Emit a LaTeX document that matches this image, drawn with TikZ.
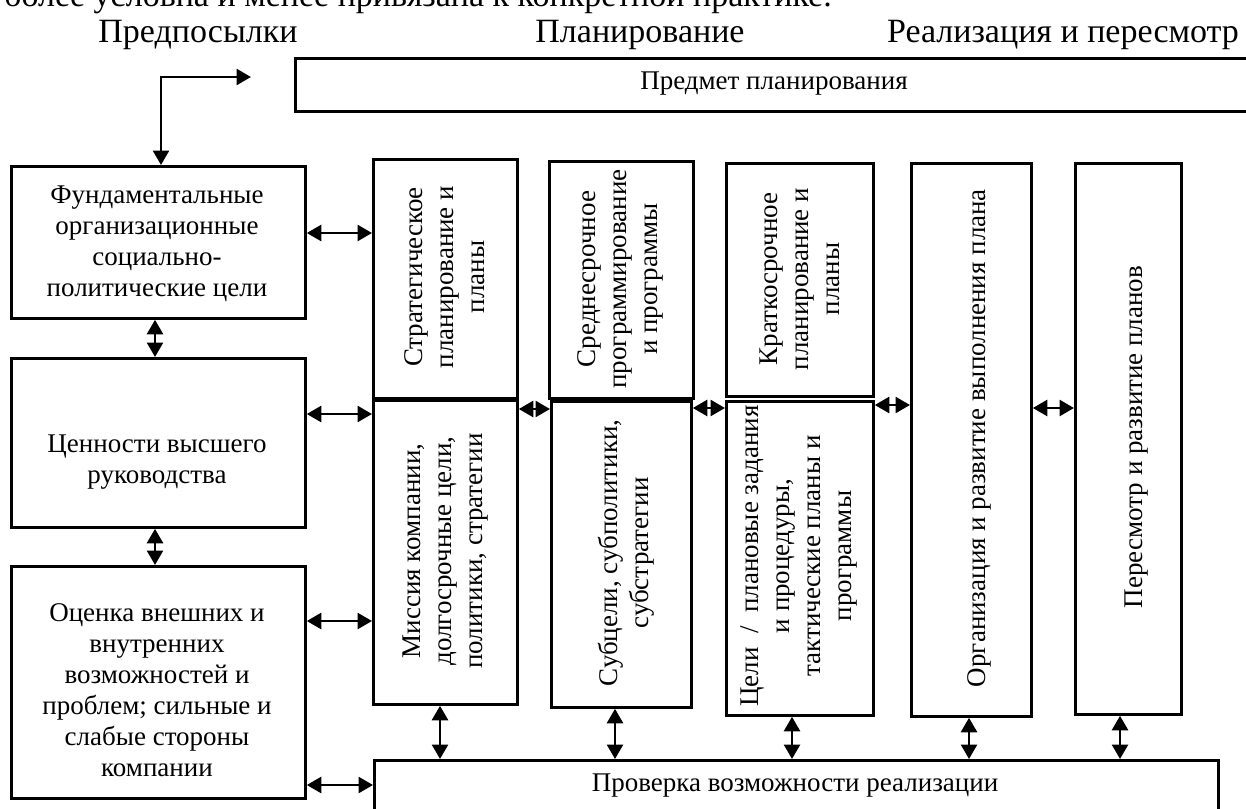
\documentclass[tikz,border=0pt]{standalone}
\usepackage{fontspec}
\setmainfont{Liberation Serif}
\usetikzlibrary{arrows.meta}
\begin{document}
\begin{tikzpicture}[x=1pt,y=-1pt,
  box/.style={draw, line width=2.8pt, inner sep=0pt, anchor=north west},
  txt/.style={inner sep=0pt, align=center, font=\fontsize{27}{31}\selectfont},
  vtxt/.style={txt, rotate=90},
  hdr/.style={inner sep=0pt, anchor=base, font=\fontsize{34}{40}\selectfont},
  tip/.tip={Triangle[length=14.5pt,width=16pt]},
  arr/.style={line width=2.7pt, tip-tip}]
\useasboundingbox (0,0) rectangle (1246,808);
\clip (0,0) rectangle (1246,808);
\fill[white] (0,0) rectangle (1246,808);

% cut-off line of the page text and headers
\node[hdr, anchor=base west] (top) at (4,7) {более условна и менее привязана к конкретной практике.};
\node[hdr] (h1) at (198,43) {Предпосылки};
\node[hdr] (h2) at (640,43) {Планирование};
\node[hdr] (h3) at (1063,43) {Реализация и пересмотр};

% subject of planning
\node[box, minimum width=980pt, minimum height=53pt] (Pr) at (294,57) {};
\node[txt] at (774,84) {Предмет планирования};

% left column
\node[box, minimum width=294pt, minimum height=152pt] (F) at (10,165) {};
\node[txt] at (157,244) {Фундаментальные\\организационные\\социально-\\политические цели};
\node[box, minimum width=294pt, minimum height=169pt] (C) at (10,357) {};
\node[txt] at (157,462) {Ценности высшего\\руководства};
\node[box, minimum width=294pt, minimum height=232pt] (A) at (10,565) {};
\node[txt] at (157,690) {Оценка внешних и\\внутренних\\возможностей и\\проблем; сильные и\\слабые стороны\\компании};

% planning columns
\node[box, minimum width=144pt, minimum height=239pt] (S) at (372,158) {};
\node[vtxt] at (445,277) {Стратегическое\\планирование и\\планы};
\node[box, minimum width=144pt, minimum height=304pt] (M) at (372,399) {};
\node[vtxt] at (446,551) {Миссия компании,\\долгосрочные цели,\\политики, стратегии};

\node[box, minimum width=144pt, minimum height=237pt] (Ms) at (548,160) {};
\node[vtxt] at (620,279) {Среднесрочное\\программирование\\и программы};
\node[box, minimum width=140pt, minimum height=306pt] (Sb) at (550,400) {};
\node[vtxt] at (626,553) {Субцели, субполитики,\\субстратегии};

\node[box, minimum width=147pt, minimum height=233pt] (K) at (725,162) {};
\node[vtxt] at (800,279) {Краткосрочное\\планирование и\\планы};
\node[box, minimum width=147pt, minimum height=314pt] (T) at (725,400) {};
\node[vtxt] at (799,556) {Цели\ \ /\ \ плановые задания\\и процедуры,\\тактические планы и\\программы};

% realisation columns
\node[box, minimum width=120pt, minimum height=553pt] (Org) at (910,162) {};
\node[vtxt] at (979,438) {Организация и развитие выполнения плана};
\node[box, minimum width=106pt, minimum height=551pt] (R) at (1074,162) {};
\node[vtxt] at (1137,437) {Пересмотр и развитие планов};

% feasibility check
\node[box, minimum width=844pt, minimum height=56pt] (P) at (373,759) {};
\node[txt] at (795,786) {Проверка возможности реализации};

% connectors
\coordinate (E) at (251,77);
\draw[arr] (E) -| (F.north -| 161,0);
\draw[arr] (F.south -| 155,0) -- (C.north -| 155,0);
\draw[arr] (C.south -| 155,0) -- (A.north -| 155,0);
\draw[arr] (F.east |- 0,233) -- (S.west |- 0,233);
\draw[arr] (C.east |- 0,414) -- (M.west |- 0,414);
\draw[arr] (A.east |- 0,621) -- (M.west |- 0,621);
\draw[arr] (A.east |- 0,785) -- (P.west |- 0,785);
\draw[arr] (M.east |- 0,409) -- (Sb.west |- 0,409);
\draw[arr] (Sb.east |- 0,408) -- (T.west |- 0,408);
\draw[arr] (T.east |- 0,405) -- (Org.west |- 0,405);
\draw[arr] (Org.east |- 0,408) -- (R.west |- 0,408);
\draw[arr] (M.south -| 440,0) -- (P.north -| 440,0);
\draw[arr] (Sb.south -| 615,0) -- (P.north -| 615,0);
\draw[arr] (T.south -| 792,0) -- (P.north -| 792,0);
\draw[arr] (Org.south -| 969,0) -- (P.north -| 969,0);
\draw[arr] (R.south -| 1120,0) -- (P.north -| 1120,0);
\end{tikzpicture}
\end{document}
